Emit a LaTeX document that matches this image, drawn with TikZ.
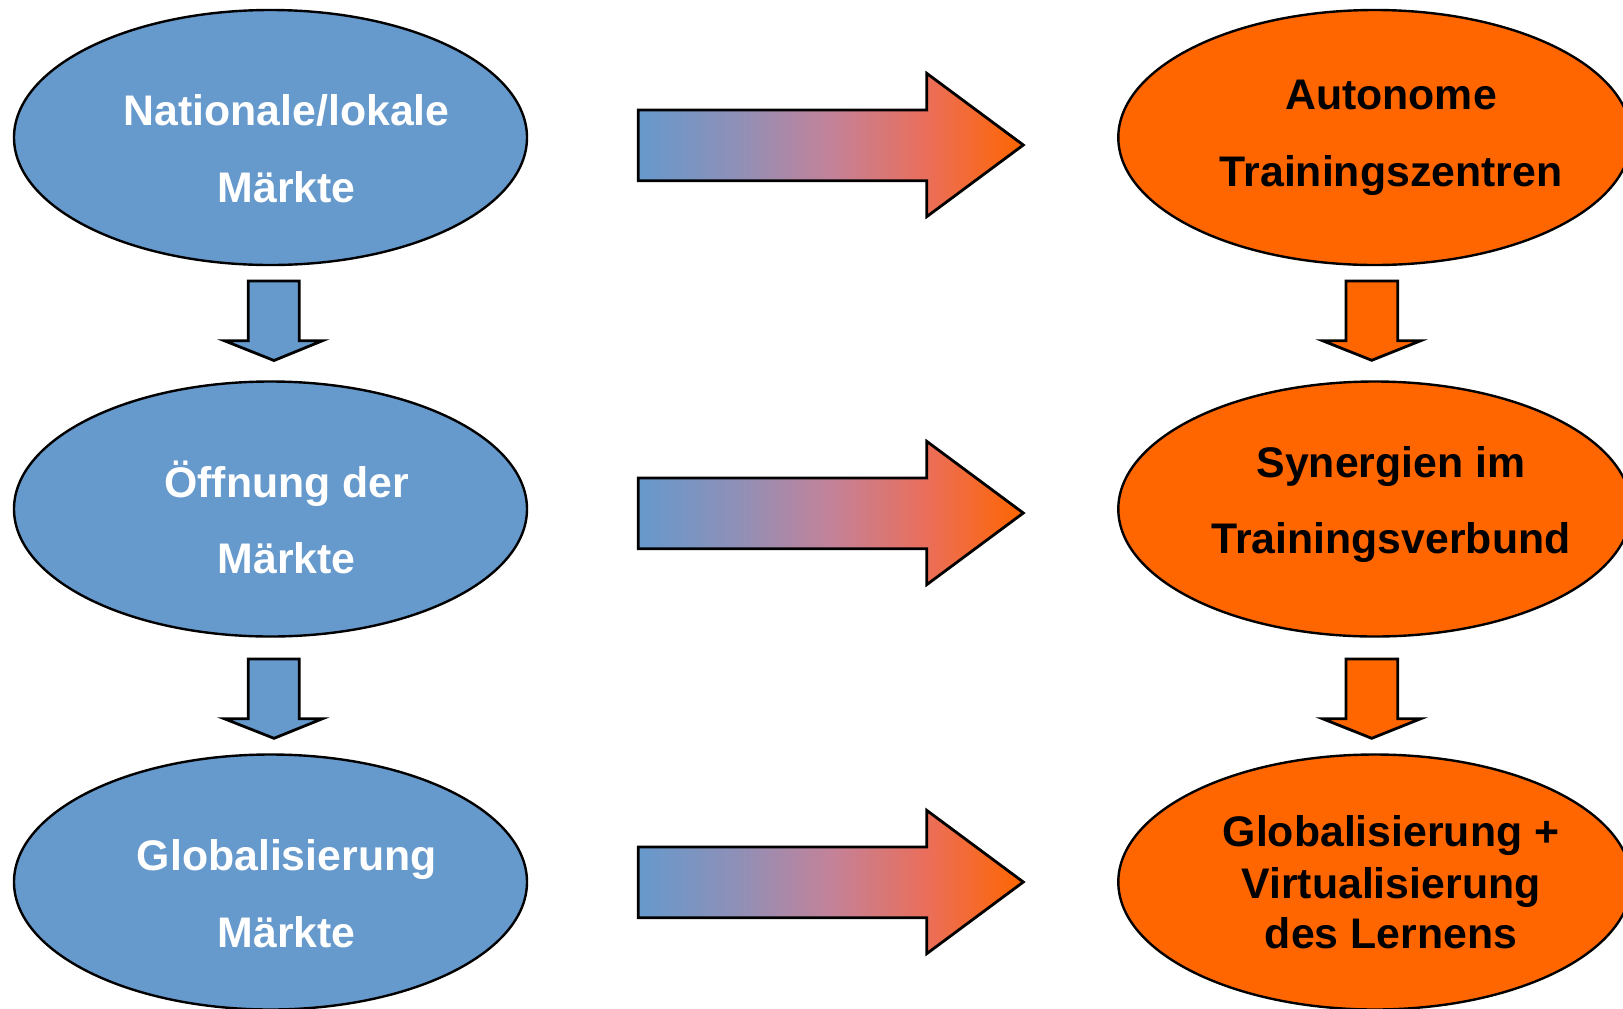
\documentclass[tikz,border=0pt]{standalone}
\usepackage{fontspec}
\setmainfont{Liberation Sans}
\usetikzlibrary{shapes.geometric}
\definecolor{bluefill}{RGB}{102,153,204}
\definecolor{orangefill}{RGB}{255,102,0}
\pgfdeclarehorizontalshading{bluetoorange}{100bp}{rgb(0bp)=(0.4,0.6,0.8); rgb(25bp)=(0.4,0.6,0.8); rgb(37.5bp)=(0.557,0.565,0.722); rgb(50bp)=(0.765,0.510,0.600); rgb(62.5bp)=(0.918,0.431,0.353); rgb(75bp)=(1,0.4,0); rgb(100bp)=(1,0.4,0)}
\tikzset{
  ell/.style={ellipse, draw=black, line width=1.2pt, minimum width=256.5pt, minimum height=127.5pt, inner sep=0pt},
  blueell/.style={ell, fill=bluefill},
  orangeell/.style={ell, fill=orangefill},
  lbl/.style={anchor=base, inner sep=0pt, font=\fontsize{21.4pt}{25pt}\selectfont\bfseries},
  wlbl/.style={lbl, text=white},
  blbl/.style={lbl, text=black},
  blockarrow/.style={draw=black, line width=1.4pt, line join=miter},
  gradarrow/.style={blockarrow, shade, shading=bluetoorange}
}
\begin{document}
\begin{tikzpicture}[x=0.5pt,y=-0.5pt]
\useasboundingbox (0,0) rectangle (1623,1008);
\clip (0,0) rectangle (1623,1008);
% ellipses
\node[blueell] (l1) at (270.5,137.5) {};
\node[blueell] (l2) at (270.5,509) {};
\node[blueell] (l3) at (270.5,882) {};
\node[orangeell] (r1) at (1374.8,137.5) {};
\node[orangeell] (r2) at (1374.8,509) {};
\node[orangeell] (r3) at (1374.8,882) {};
% labels
\node[wlbl] (l1a) at (286.7,125) {Nationale/lokale};
\node[wlbl] (l1b) at (286.7,202) {Märkte};
\node[wlbl] (l2a) at (286.7,497) {Öffnung der};
\node[wlbl] (l2b) at (286.7,573) {Märkte};
\node[wlbl] (l3a) at (286.7,870) {Globalisierung};
\node[wlbl] (l3b) at (286.7,947) {Märkte};
\node[blbl] (r1a) at (1391,109) {Autonome};
\node[blbl] (r1b) at (1391,186.7) {Trainingszentren};
\node[blbl] (r2a) at (1391,477) {Synergien im};
\node[blbl] (r2b) at (1391,553.5) {Trainingsverbund};
\node[blbl] (r3a) at (1391,846.7) {Globalisierung +};
\node[blbl] (r3b) at (1391,898) {Virtualisierung};
\node[blbl] (r3c) at (1391,948) {des Lernens};
% down arrows left
\draw[blockarrow, fill=bluefill] (248.3,281) -- (299.3,281) -- (299.3,340.7) -- (322.5,340.7) -- (274,360.5) -- (224.3,340.7) -- (248.3,340.7) -- cycle;
\draw[blockarrow, fill=bluefill] (248.3,659) -- (299.3,659) -- (299.3,718.7) -- (322.5,718.7) -- (274,738.3) -- (224.3,718.7) -- (248.3,718.7) -- cycle;
% down arrows right
\draw[blockarrow, fill=orangefill] (1346,281) -- (1397.7,281) -- (1397.7,340.7) -- (1420.8,340.7) -- (1371.7,360.3) -- (1322.6,340.7) -- (1346,340.7) -- cycle;
\draw[blockarrow, fill=orangefill] (1346,659) -- (1397.7,659) -- (1397.7,718.7) -- (1420.8,718.7) -- (1371.7,738.3) -- (1322.6,718.7) -- (1346,718.7) -- cycle;
% horizontal gradient arrows
\draw[gradarrow] (638.3,110) -- (926.7,110) -- (926.7,73.3) -- (1023.3,145) -- (926.7,216.7) -- (926.7,180.7) -- (638.3,180.7) -- cycle;
\draw[gradarrow] (638.3,478) -- (926.7,478) -- (926.7,441.3) -- (1023.3,513) -- (926.7,584.7) -- (926.7,548.7) -- (638.3,548.7) -- cycle;
\draw[gradarrow] (638.3,847) -- (926.7,847) -- (926.7,810.3) -- (1023.3,882) -- (926.7,953.7) -- (926.7,917.7) -- (638.3,917.7) -- cycle;
\end{tikzpicture}
\end{document}
